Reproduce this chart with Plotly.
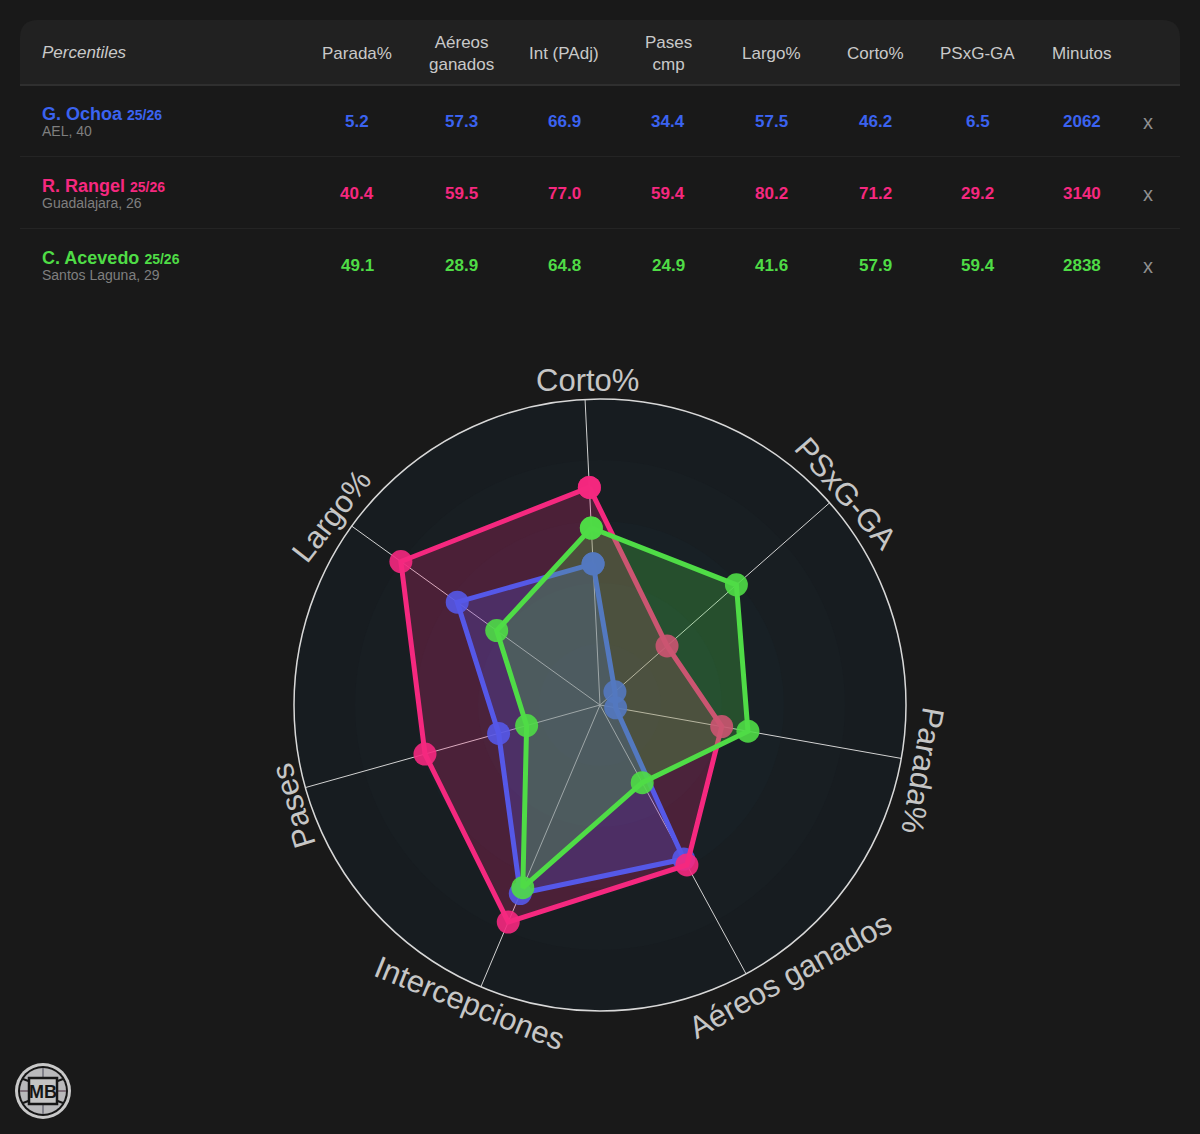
import plotly.graph_objects as go

W, H = 1200, 1134
BG = "#191919"

# --- data ---
table_headers = ["Parada%", "Aéreos<br>ganados", "Int (PAdj)", "Pases<br>cmp", "Largo%", "Corto%", "PSxG-GA", "Minutos"]
players = ["G. Ochoa", "R. Rangel", "C. Acevedo"]
seasons = ["25/26", "25/26", "25/26"]
subtitles = ["AEL, 40", "Guadalajara, 26", "Santos Laguna, 29"]
colors = ["#3b63f0", "#f5287f", "#4fdc46"]
line_colors = ["#5558e8", "#f5287f", "#4fdc46"]
fill_colors = ["rgba(85,88,232,0.25)", "rgba(245,40,127,0.23)", "rgba(79,220,70,0.25)"]

ochoa_row = ["5.2", "57.3", "66.9", "34.4", "57.5", "46.2", "6.5", "2062"]
rangel_row = ["40.4", "59.5", "77.0", "59.4", "80.2", "71.2", "29.2", "3140"]
acevedo_row = ["49.1", "28.9", "64.8", "24.9", "41.6", "57.9", "59.4", "2838"]
rows = [ochoa_row, rangel_row, acevedo_row]

radar_axes = ["Corto%", "PSxG-GA", "Parada%", "Aéreos ganados", "Intercepciones", "Pases", "Largo%"]
ochoa_radar = [46.2, 6.5, 5.2, 57.3, 66.9, 34.4, 57.5]
rangel_radar = [71.2, 29.2, 40.4, 59.5, 77.0, 59.4, 80.2]
acevedo_radar = [57.9, 59.4, 49.1, 28.9, 64.8, 24.9, 41.6]
radar_series = [ochoa_radar, rangel_radar, acevedo_radar]

# --- layout helpers (pixel -> paper) ---
px = lambda x: x / W
py = lambda y: 1 - y / H

def circle(cx, cy, r, fill, line="rgba(0,0,0,0)", lw=0):
    return dict(type="circle", xref="paper", yref="paper", layer="below",
                x0=px(cx - r), x1=px(cx + r), y0=py(cy + r), y1=py(cy - r),
                fillcolor=fill, line=dict(color=line, width=lw))

def hline(y, color, lw, x0=20, x1=1180):
    return dict(type="line", xref="paper", yref="paper", layer="below",
                x0=px(x0), x1=px(x1), y0=py(y), y1=py(y), line=dict(color=color, width=lw))

def seg(x0, y0, x1, y1, color, lw):
    return dict(type="line", xref="paper", yref="paper", layer="below",
                x0=px(x0), x1=px(x1), y0=py(y0), y1=py(y1), line=dict(color=color, width=lw))

def label(x, y, text, size=17, color="#c9c9c9", bold=False, italic=False, xanchor="center", angle=0):
    if bold:
        text = f"<b>{text}</b>"
    if italic:
        text = f"<i>{text}</i>"
    return dict(xref="paper", yref="paper", x=px(x), y=py(y), text=text, showarrow=False,
                xanchor=xanchor, yanchor="middle", textangle=angle, align="center",
                font=dict(family="Liberation Sans, Arial, sans-serif", size=size, color=color))

shapes, ann = [], []

# table header
x0, x1, y0, y1, r = px(20), px(1180), py(85), py(20), 18
rx, ry = r / W, r / H
shapes.append(dict(type="path", xref="paper", yref="paper", layer="below",
                   path=f"M {x0} {y0} L {x0} {y1 - ry} Q {x0} {y1} {x0 + rx} {y1} "
                        f"L {x1 - rx} {y1} Q {x1} {y1} {x1} {y1 - ry} L {x1} {y0} Z",
                   fillcolor="#212121", line=dict(width=0)))
shapes.append(hline(85, "#2f2f2f", 2))
shapes.append(hline(156.5, "#242424", 1))
shapes.append(hline(228.5, "#242424", 1))

column_x = [357, 461, 564, 668, 771, 875, 978, 1082]
ann.append(label(40, 53, "Percentiles", italic=True, xanchor="left"))
for x, h in zip(column_x, table_headers):
    ann.append(label(x, 53.5, h))

for i, yc in enumerate([121, 193, 265]):
    name = f'<b>{players[i]}</b> <span style="font-size:14px"><b>{seasons[i]}</b></span>'
    ann.append(label(39.5, yc - 7, name, size=18, color=colors[i], xanchor="left"))
    ann.append(label(39.5, yc + 10, subtitles[i], size=14, color="#7f7f7f", xanchor="left"))
    for x, v in zip(column_x, rows[i]):
        ann.append(label(x, yc + 1, v, color=colors[i], bold=True))
    ann.append(label(1148, yc + 1, "x", size=20, color="#8f8f8f"))

# radar background bands
cx, cy, R = 600, 705, 306
shapes += [circle(cx, cy, R, "#171c20"),
           circle(cx, cy, 245, "#181e22"),
           circle(cx, cy, 184, "#182025"),
           circle(cx, cy, 122, "#182228"),
           circle(cx, cy, 61, "#18232b")]

# radar axis labels
radar_label_pos = [(587, 380, 0), (846, 493, 49), (923, 771, 100), (790, 975, -29),
                   (470, 1003, 22), (293, 806, -107), (331, 516, -52)]
for t, (x, y, a) in zip(radar_axes, radar_label_pos):
    ann.append(label(x, y, t, size=31, color="#c6c6c6", angle=a))

# logo
lx, ly = 43, 1091
shapes += [circle(lx, ly, 28, "#c9c9c9"),
           circle(lx, ly, 25, "#161616"),
           circle(lx, ly, 23, "#b9b9bb"),
           seg(lx - 23, ly, lx + 23, ly, "#6e5a66", 1.5),
           seg(lx, ly - 23, lx, ly + 23, "#6e6e78", 1.5),
           seg(lx - 20, ly - 12, lx - 12, ly - 9, "#161616", 2),
           seg(lx + 20, ly - 12, lx + 12, ly - 9, "#161616", 2),
           seg(lx - 20, ly + 12, lx - 12, ly + 9, "#161616", 2),
           seg(lx + 20, ly + 12, lx + 12, ly + 9, "#161616", 2),
           dict(type="rect", xref="paper", yref="paper", layer="below",
                x0=px(lx - 14), x1=px(lx + 14), y0=py(ly + 13), y1=py(ly - 13),
                fillcolor="#c4c4c4", line=dict(color="#161616", width=2.5))]
ann.append(label(lx, ly + 1, "MB", size=18, color="#161616", bold=True))

def outline(i):
    vals = radar_series[i]
    return go.Scatterpolar(
        r=vals + vals[:1], theta=radar_axes + radar_axes[:1],
        mode="lines+markers", line=dict(color=line_colors[i], width=5),
        marker=dict(size=23, color=line_colors[i], opacity=0.9, line=dict(width=0)),
        name=players[i], hoverinfo="name+r+theta", cliponaxis=False)

def area(i):
    vals = radar_series[i]
    return go.Scatterpolar(
        r=vals + vals[:1], theta=radar_axes + radar_axes[:1],
        mode="none", fill="toself", fillcolor=fill_colors[i],
        name=players[i], hoverinfo="skip")

fig = go.Figure()
# pink area sits under the blue series; pink outline and markers sit over it
fig.add_trace(area(1))
fig.add_trace(area(0))
fig.add_trace(outline(0))
fig.add_trace(outline(1))
fig.add_trace(area(2))
fig.add_trace(outline(2))

fig.update_layout(
    width=W, height=H, autosize=False, showlegend=False,
    margin=dict(l=0, r=0, t=0, b=0),
    paper_bgcolor=BG, plot_bgcolor=BG,
    shapes=shapes, annotations=ann,
    polar=dict(
        domain=dict(x=[px(cx - R), px(cx + R)], y=[py(cy + R), py(cy - R)]),
        bgcolor="rgba(0,0,0,0)",
        radialaxis=dict(visible=False, range=[0, 100]),
        angularaxis=dict(direction="clockwise", rotation=92.8, showticklabels=False, ticks="",
                         gridcolor="#d2d2d2", gridwidth=1.4, linecolor="#d8d8d8", linewidth=1.5),
    ),
)

fig.write_html("out.html", config=dict(displayModeBar=False),
               post_script=f"document.body.style.margin='0';document.body.style.background='{BG}';")
